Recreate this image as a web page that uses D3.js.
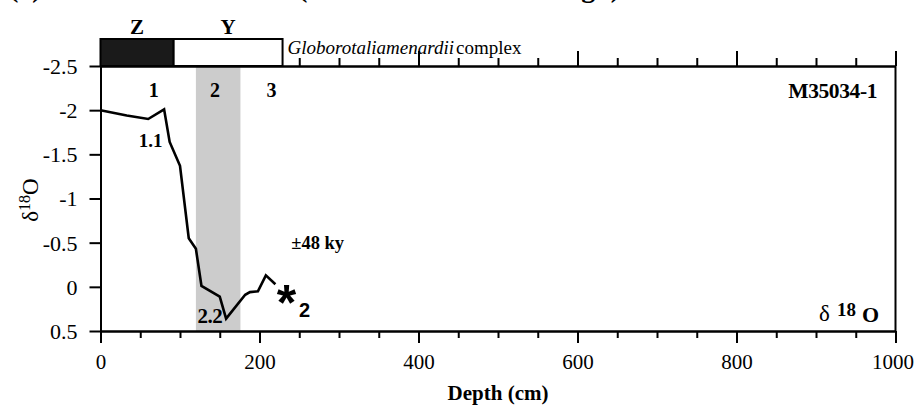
<!DOCTYPE html>
<html>
<head>
<meta charset="utf-8">
<script src="https://cdn.jsdelivr.net/npm/d3@7"></script>
<style>
  html, body { margin: 0; padding: 0; background: #fff; }
  svg { display: block; }
  text { font-family: "Liberation Serif", "Times New Roman", serif; fill: #000; }
</style>
</head>
<body>
<svg id="chart" width="914" height="407"></svg>
<script>
// Core M35034-1: oxygen isotope record against depth
const depth = [0, 33, 60, 80, 87, 100, 111, 120, 127, 150, 158, 182, 188, 198, 208, 220];
const d18O  = [-2.0, -1.94, -1.90, -2.01, -1.64, -1.37, -0.55, -0.43, -0.01, 0.11, 0.36, 0.09, 0.06, 0.05, -0.13, -0.03];

// Globorotalia menardii complex zones (depth extents, cm)
const zoneNames = ["Z", "Y"];
const zoneTop = [0, 92];
const zoneBottom = [92, 229];

// Isotope stages and the shaded stage 2 interval
const stageNames = ["1", "2", "3"];
const stageDepth = [67, 144, 215];
const shadedStage = [120, 176];

// Axis ticks
const xMajor = [0, 200, 400, 600, 800, 1000];
const xMinor = d3.range(0, 1001, 50).filter(v => v % 200 !== 0);
const yTicks = [-2.5, -2, -1.5, -1, -0.5, 0, 0.5];

const serif = '"Liberation Serif", "Times New Roman", serif';
const sans = '"Liberation Sans", Arial, sans-serif';

const svg = d3.select("#chart");
const x = d3.scaleLinear().domain([0, 1000]).range([100.5, 895.5]);
const y = d3.scaleLinear().domain([-2.5, 0.5]).range([66, 331]);
const [x0, x1] = x.range();
const [y0, y1] = y.range();

// shaded stage 2 band
svg.append("rect")
  .attr("x", x(shadedStage[0])).attr("y", y0)
  .attr("width", x(shadedStage[1]) - x(shadedStage[0]))
  .attr("height", y1 - y0)
  .attr("fill", "#cccccc");

// isotope curve
const pts = depth.map((d, i) => [d, d18O[i]]);
svg.append("path")
  .datum(pts)
  .attr("fill", "none")
  .attr("stroke", "#000")
  .attr("stroke-width", 2.6)
  .attr("stroke-linejoin", "miter")
  .attr("d", d3.line().x(d => x(d[0])).y(d => y(d[1])));

function styleAxis(size) {
  return g => {
    g.selectAll("path.domain").attr("stroke", "#000").attr("stroke-width", 2);
    g.selectAll(".tick line").attr("stroke", "#000").attr("stroke-width", 2);
    g.selectAll("text")
      .style("font-family", serif)
      .style("font-size", size + "px")
      .attr("fill", "#000");
  };
}

// bottom axis: major with labels, minor without
svg.append("g").attr("transform", `translate(0,${y1})`)
  .call(d3.axisBottom(x).tickValues(xMinor).tickSize(7).tickSizeOuter(0).tickFormat(""))
  .call(styleAxis(21));
const bottomMajor = svg.append("g").attr("transform", `translate(0,${y1})`)
  .call(d3.axisBottom(x).tickValues(xMajor).tickSize(12).tickSizeOuter(0).tickPadding(11).tickFormat(d => String(d)))
  .call(styleAxis(21));
// keep the last label inside the right edge
bottomMajor.selectAll(".tick text").filter(d => d === 1000)
  .attr("text-anchor", "end").attr("x", 18);

// top axis: ticks pointing up
svg.append("g").attr("transform", `translate(0,${y0})`)
  .call(d3.axisTop(x).tickValues(xMinor).tickSize(8).tickSizeOuter(0).tickFormat(""))
  .call(styleAxis(21));
svg.append("g").attr("transform", `translate(0,${y0})`)
  .call(d3.axisTop(x).tickValues(xMajor).tickSize(15).tickSizeOuter(0).tickFormat(""))
  .call(styleAxis(21));

// left axis
svg.append("g").attr("transform", `translate(${x0},0)`)
  .call(d3.axisLeft(y).tickValues(yTicks).tickSize(11).tickSizeOuter(0).tickPadding(12).tickFormat(d => String(d)))
  .call(styleAxis(22))
  .selectAll("text").attr("dy", "0.34em");

// right border
svg.append("line")
  .attr("x1", x1).attr("x2", x1).attr("y1", y0).attr("y2", y1)
  .attr("stroke", "#000").attr("stroke-width", 2);

// zone boxes above the plot
const boxTop = 39;
zoneNames.forEach((z, i) => {
  svg.append("rect")
    .attr("x", x(zoneTop[i])).attr("y", boxTop)
    .attr("width", x(zoneBottom[i]) - x(zoneTop[i]))
    .attr("height", y0 - boxTop)
    .attr("fill", i === 0 ? "#1a1a1a" : "#fff")
    .attr("stroke", "#000").attr("stroke-width", 2);
  svg.append("text")
    .attr("x", x((zoneTop[i] + zoneBottom[i]) / 2)).attr("y", 34)
    .attr("text-anchor", "middle")
    .style("font-size", "21px").style("font-weight", "bold")
    .text(z);
});

const zoneLabel = svg.append("text")
  .attr("x", x(zoneBottom[1]) + 5).attr("y", 54)
  .style("font-size", "19px");
zoneLabel.append("tspan").style("font-style", "italic").text("Globorotaliamenardii");
zoneLabel.append("tspan").attr("dx", 2).text("complex");

// stage numbers
stageNames.forEach((s, i) => {
  svg.append("text")
    .attr("x", x(stageDepth[i])).attr("y", 97)
    .attr("text-anchor", "middle")
    .style("font-size", "20px").style("font-weight", "bold")
    .text(s);
});

// core name
svg.append("text")
  .attr("x", 877).attr("y", 98)
  .attr("text-anchor", "end")
  .style("font-size", "21.5px").style("font-weight", "bold")
  .style("letter-spacing", "-0.4px")
  .text("M35034-1");

// substage labels
svg.append("text")
  .attr("x", x(78)).attr("y", y(-1.58))
  .attr("text-anchor", "end")
  .style("font-size", "19px").style("font-weight", "bold")
  .text("1.1");
svg.append("text")
  .attr("x", x(153)).attr("y", y(0.41))
  .attr("text-anchor", "end")
  .style("font-size", "21px").style("font-weight", "bold")
  .style("letter-spacing", "-0.5px")
  .text("2.2");

// age uncertainty and dated level
svg.append("text")
  .attr("x", x(240)).attr("y", y(-0.43))
  .style("font-size", "18.5px").style("font-weight", "bold")
  .text("±48 ky");
svg.append("text")
  .attr("x", x(234)).attr("y", y(0.08))
  .attr("text-anchor", "middle").attr("dy", "0.52em")
  .style("font-family", sans)
  .style("font-size", "50px").style("font-weight", "bold")
  .text("*");
svg.append("text")
  .attr("x", 299).attr("y", 317)
  .style("font-family", sans)
  .style("font-size", "20px").style("font-weight", "bold")
  .text("2");

// series tag, bottom right
svg.append("text").attr("x", 819).attr("y", 321)
  .style("font-size", "23px").text("δ");
svg.append("text").attr("x", 837).attr("y", 316)
  .style("font-size", "19px").style("font-weight", "bold").text("18");
svg.append("text").attr("x", 862).attr("y", 322)
  .style("font-size", "22px").style("font-weight", "bold").text("O");

// axis titles
svg.append("text")
  .attr("x", (x0 + x1) / 2).attr("y", 400)
  .attr("text-anchor", "middle")
  .style("font-size", "21px").style("font-weight", "bold")
  .text("Depth (cm)");

const yl = svg.append("text")
  .attr("transform", "translate(38,200) rotate(-90)")
  .attr("text-anchor", "middle")
  .style("font-size", "23px");
yl.append("tspan").text("δ");
yl.append("tspan").attr("dy", -8).style("font-size", "16px").text("18");
yl.append("tspan").attr("dy", 8).text("O");

// figure heading (runs off the top edge)
svg.append("text").attr("x", 9).attr("y", -3)
  .style("font-size", "28px").style("font-weight", "bold")
  .text("(a) Core M35034-1");
svg.append("text").attr("x", 298).attr("y", -3)
  .style("font-size", "28px").style("font-weight", "bold")
  .text("(Southern Venezuela High)");
</script>
</body>
</html>
